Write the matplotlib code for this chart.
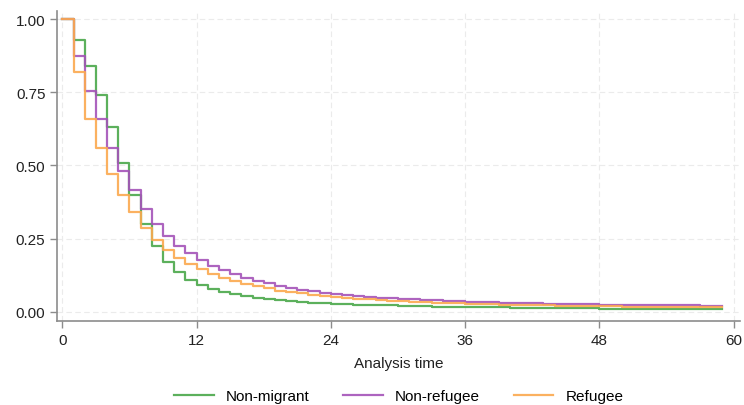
import numpy as np
import matplotlib
matplotlib.use("Agg")
import matplotlib.pyplot as plt

# ── Data: Kaplan-Meier style survival estimates by month ─────────────────────
months = list(range(0, 60))

non_migrant = [
    1.000, 0.930, 0.840, 0.740, 0.630, 0.510, 0.400, 0.300, 0.225, 0.170,
    0.135, 0.110, 0.092, 0.078, 0.068, 0.060, 0.053, 0.048, 0.044, 0.040,
    0.037, 0.034, 0.032, 0.030, 0.028, 0.026, 0.025, 0.024, 0.023, 0.022,
    0.021, 0.020, 0.019, 0.018, 0.018, 0.017, 0.016, 0.016, 0.015, 0.015,
    0.014, 0.014, 0.013, 0.013, 0.013, 0.012, 0.012, 0.012, 0.011, 0.011,
    0.011, 0.011, 0.011, 0.010, 0.010, 0.010, 0.010, 0.010, 0.010, 0.010,
]
non_refugee = [
    1.000, 0.875, 0.755, 0.660, 0.560, 0.480, 0.415, 0.350, 0.300, 0.260,
    0.225, 0.200, 0.178, 0.158, 0.142, 0.128, 0.116, 0.106, 0.097, 0.089,
    0.082, 0.076, 0.071, 0.066, 0.062, 0.058, 0.055, 0.052, 0.049, 0.047,
    0.045, 0.043, 0.041, 0.039, 0.038, 0.036, 0.035, 0.034, 0.033, 0.032,
    0.031, 0.030, 0.029, 0.028, 0.028, 0.027, 0.026, 0.026, 0.025, 0.025,
    0.024, 0.024, 0.023, 0.023, 0.022, 0.022, 0.022, 0.021, 0.021, 0.021,
]
refugee = [
    1.000, 0.820, 0.660, 0.560, 0.470, 0.400, 0.340, 0.285, 0.245, 0.210,
    0.185, 0.163, 0.145, 0.129, 0.116, 0.105, 0.095, 0.087, 0.080, 0.073,
    0.068, 0.063, 0.059, 0.055, 0.051, 0.048, 0.045, 0.043, 0.040, 0.038,
    0.036, 0.034, 0.033, 0.031, 0.030, 0.029, 0.028, 0.027, 0.026, 0.025,
    0.024, 0.023, 0.023, 0.022, 0.021, 0.021, 0.020, 0.020, 0.019, 0.019,
    0.018, 0.018, 0.018, 0.017, 0.017, 0.017, 0.016, 0.016, 0.016, 0.016,
]

series = [
    ("Non-migrant", non_migrant, "#4aa84a"),
    ("Non-refugee", non_refugee, "#a453b8"),
    ("Refugee", refugee, "#fba94f"),
]

x_ticks = [0, 12, 24, 36, 48, 60]
y_ticks = [0.0, 0.25, 0.50, 0.75, 1.00]

plt.rcParams["font.family"] = ["Liberation Sans", "DejaVu Sans"]

fig = plt.figure(figsize=(7.44, 4.06), dpi=100, facecolor="white")
ax = fig.add_axes([0.077, 0.207, 0.918, 0.763])

for label, vals, col in series:
    # extend last step one unit so the step function ends at t = 59
    t = months + [months[-1]]
    v = vals + [vals[-1]]
    ax.step(t, v, where="post", color=col, lw=1.6, alpha=0.9, label=label)

ax.set_xlim(-0.45, 60.6)
ax.set_ylim(-0.031, 1.027)
ax.set_xticks(x_ticks)
ax.set_yticks(y_ticks)
ax.set_yticklabels([f"{v:.2f}" for v in y_ticks])

ax.grid(True, color="#ebebeb", lw=0.8, ls=(0, (5, 3)))
ax.set_axisbelow(True)
for s in ["top", "right"]:
    ax.spines[s].set_visible(False)
for s in ["left", "bottom"]:
    ax.spines[s].set_color("#8c8c8c")
    ax.spines[s].set_linewidth(1.2)
ax.tick_params(colors="#8c8c8c", labelcolor="#222222", labelsize=11,
               length=5, width=1.0)

ax.set_xlabel("Analysis time", fontsize=11, color="#222222", labelpad=7)

ax.legend(loc="center", bbox_to_anchor=(0.5, -0.242), ncol=3,
          frameon=False, fontsize=11, handlelength=2.6, columnspacing=2.2)

plt.savefig("out.png", dpi=100, facecolor="white")
plt.close()
